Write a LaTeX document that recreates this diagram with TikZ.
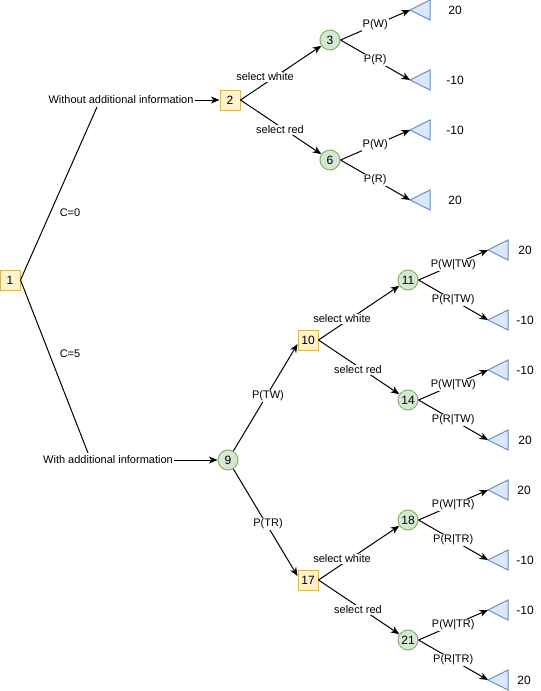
\documentclass[tikz,border=0pt]{standalone}
\usepackage{fontspec}
\setmainfont{Liberation Sans}
\usetikzlibrary{arrows.meta,calc}
\definecolor{decfill}{HTML}{FFF2CC}
\definecolor{decdraw}{HTML}{D6B656}
\definecolor{chfill}{HTML}{D5E8D4}
\definecolor{chdraw}{HTML}{82B366}
\definecolor{trifill}{HTML}{DAE8FC}
\definecolor{tridraw}{HTML}{6C8EBF}
\tikzset{
  decbox/.style={rectangle, draw=decdraw, fill=decfill, line width=1pt, minimum size=20pt, inner sep=0pt, font=\fontsize{12}{14}\selectfont},
  chance/.style={circle, draw=chdraw, fill=chfill, line width=1pt, minimum size=20pt, inner sep=0pt, font=\fontsize{12}{14}\selectfont},
  tri/.style={draw=tridraw, fill=trifill, line width=1pt, line join=miter},
  lbl/.style={fill=white, inner sep=1pt, font=\fontsize{11}{13}\selectfont},
  txt/.style={inner sep=1pt, font=\fontsize{11}{13}\selectfont},
  val/.style={inner sep=1pt, font=\fontsize{12}{14}\selectfont},
  conn/.style={draw=black, line width=1pt},
  arr/.style={conn, -{Stealth[length=8.5pt,width=7pt,inset=2.5pt]}}
}
\begin{document}
\begin{tikzpicture}[x=1pt,y=-1pt]
\useasboundingbox (0,0) rectangle (541,691);

% ---------- nodes ----------
\node[decbox] (n1) at (10,280) {1};
\node[txt] (wo) at (121,100) {Without additional information};
\node[txt] (wi) at (108,460) {With additional information};
\coordinate (wotop) at (97,107);
\coordinate (witop) at (88,453);

\node[decbox] (n2) at (230,100) {2};
\node[chance] (n3) at (330,40) {3};
\node[chance] (n6) at (330,160) {6};

\node[chance] (n9) at (228,460) {9};
\node[decbox] (n10) at (308,340) {10};
\node[chance] (n11) at (408,280) {11};
\node[chance] (n14) at (408,400) {14};
\node[decbox] (n17) at (308,580) {17};
\node[chance] (n18) at (408,520) {18};
\node[chance] (n21) at (408,640) {21};

% triangle tips
\coordinate (t1) at (410,10);
\coordinate (t2) at (410,80);
\coordinate (t3) at (410,130);
\coordinate (t4) at (410,200);
\coordinate (t5) at (488,250);
\coordinate (t6) at (488,320);
\coordinate (t7) at (488,370);
\coordinate (t8) at (488,440);
\coordinate (t9) at (488,490);
\coordinate (t10) at (488,560);
\coordinate (t11) at (488,610);
\coordinate (t12) at (488,680);
\foreach \t in {t1,t2,t3,t4,t5,t6,t7,t8,t9,t10,t11,t12}{
  \draw[tri] (\t) -- ++(20,-10) -- ++(0,20) -- cycle;
}

% values
\node[val] (v1) at (455,10) {20};
\node[val] (v2) at (455,80) {-10};
\node[val] (v3) at (455,130) {-10};
\node[val] (v4) at (455,200) {20};
\node[val] (v5) at (525,250) {20};
\node[val] (v6) at (525,320) {-10};
\node[val] (v7) at (525,370) {-10};
\node[val] (v8) at (525,440) {20};
\node[val] (v9) at (524,490) {20};
\node[val] (v10) at (525,560) {-10};
\node[val] (v11) at (525,610) {-10};
\node[val] (v12) at (524,680) {20};

% ---------- connectors ----------
\draw[conn] (n1.east) -- (wotop);
\draw[conn] (n1.east) -- (witop);
\node[txt] (c0) at (70,213) {C=0};
\node[txt] (c5) at (70,354) {C=5};

\draw[arr] (wo.east) -- (n2.west);
\draw[arr] (wi.east) -- (n9.west);

% top group
\draw[arr] (n2.east) -- (n3);
\draw[arr] (n2.east) -- (n6);
\node[lbl] (sw1) at (265,77) {select white};
\node[lbl] (sr1) at (280,130) {select red};
\draw[arr] (n3.east) -- node[lbl] (p1) {P(W)} (t1);
\draw[arr] (n3.east) -- node[lbl] (p2) {P(R)} (t2);
\draw[arr] (n6.east) -- node[lbl] (p3) {P(W)} (t3);
\draw[arr] (n6.east) -- node[lbl] (p4) {P(R)} (t4);

% with information
\draw[arr] (n9) -- ($(n10.west)+(0,4)$);
\draw[arr] (n9) -- ($(n17.west)+(0,-4)$);
\node[lbl] (ptw) at (268,396) {P(TW)};
\node[lbl] (ptr) at (268,524) {P(TR)};

\draw[arr] (n10.east) -- (n11);
\draw[arr] (n10.east) -- (n14);
\node[lbl] (sw2) at (342,319) {select white};
\node[lbl] (sr2) at (358,370) {select red};
\draw[arr] (n11.east) -- node[lbl] (p5) {P(W|TW)} (t5);
\draw[arr] (n11.east) -- node[lbl] (p6) {P(R|TW)} (t6);
\draw[arr] (n14.east) -- node[lbl] (p7) {P(W|TW)} (t7);
\draw[arr] (n14.east) -- node[lbl] (p8) {P(R|TW)} (t8);

\draw[arr] (n17.east) -- (n18);
\draw[arr] (n17.east) -- (n21);
\node[lbl] (sw3) at (342,559) {select white};
\node[lbl] (sr3) at (358,610) {select red};
\draw[arr] (n18.east) -- node[lbl] (p9) {P(W|TR)} (t9);
\draw[arr] (n18.east) -- node[lbl] (p10) {P(R|TR)} (t10);
\draw[arr] (n21.east) -- node[lbl] (p11) {P(W|TR)} (t11);
\draw[arr] (n21.east) -- node[lbl] (p12) {P(R|TR)} (t12);
\end{tikzpicture}
\end{document}
